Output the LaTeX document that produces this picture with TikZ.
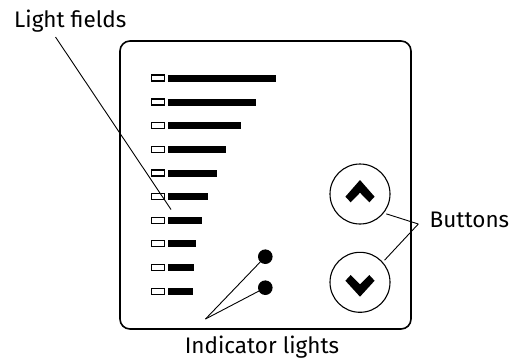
\documentclass[tikz,border=0pt]{standalone}
\usepackage{fontspec}
\setmainfont{Fira Sans}
\tikzset{
  px/.style={x=1pt,y=-1pt},
  ink/.style={line width=0.9pt},
  panel/.style={draw,line width=1.6pt,rounded corners=10pt},
  led/.style={draw,line width=1.3pt,fill=white,minimum width=13pt,minimum height=6pt,inner sep=0pt,outer sep=0pt},
  lightbar/.style={fill=black,minimum height=7pt,inner sep=0pt,outer sep=0pt,anchor=west},
  indicator/.style={circle,fill=black,minimum size=14.6pt,inner sep=0pt,outer sep=0pt},
  btn/.style={circle,draw,line width=1.1pt,minimum size=60pt,inner sep=0pt,outer sep=3pt},
  lbl/.style={font=\fontsize{22.5pt}{25pt}\selectfont,inner sep=0pt,text=black},
}
\begin{document}
\begin{tikzpicture}[px]
\useasboundingbox (0,0) rectangle (514,360);
\draw[panel] (120,41) rectangle (411,329);
% leds and bars
\foreach \n/\y/\e in {1/78/276,2/102/255.7,3/125.7/240.7,4/149.3/226,5/173/217,6/196.7/208,7/220.3/202.3,8/243.7/196.3,9/267.7/193.5,10/291.3/193}{
  \node[led] (led\n) at (158,\y) {};
  \pgfmathsetmacro{\w}{\e-168.3}
  \node[lightbar,minimum width=\w pt] (bar\n) at (168.3,\y) {};
}
% indicator lights
\node[indicator] (ind1) at (265.3,256.7) {};
\node[indicator] (ind2) at (265.3,287.7) {};
% buttons
\node[btn] (up) at (360,194) {};
\node[btn] (down) at (360,282.3) {};
\fill (360,180) -- (374.6,196.7) -- (369.3,202.3) -- (360,192.7) -- (350.7,202.3) -- (345.4,196.7) -- cycle;
\fill (360,296.7) -- (374.6,280.7) -- (369.3,275) -- (360,284.3) -- (350.7,275) -- (345.4,280.7) -- cycle;
% labels
\node[lbl,anchor=base west] (lf) at (14,27.7) {Light fields};
\node[lbl,anchor=base west] (bt) at (429.5,227.3) {Buttons};
\node[lbl,anchor=base] (il) at (262,353) {Indicator lights};
% connector points
\coordinate (lfstart) at (55.5,37);
\coordinate (lfend) at (171,209.5);
\coordinate (btjoin) at (418.3,224);
\coordinate (iljoin) at (205.5,319);
% connectors
\draw[ink] (lfstart) -- (lfend);
\draw[ink] (btjoin) -- (up.-37);
\draw[ink] (btjoin) -- (down.42);
\draw[ink] (iljoin) -- (ind1);
\draw[ink] (iljoin) -- (ind2);
\end{tikzpicture}
\end{document}
